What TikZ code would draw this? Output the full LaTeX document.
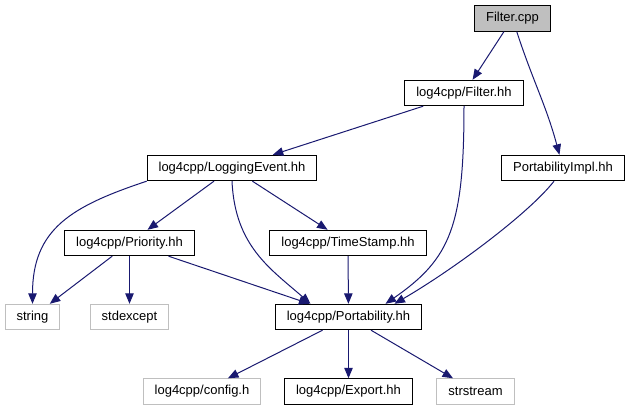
\documentclass[tikz,border=0pt]{standalone}
\usepackage{fontspec}
\setmainfont{Liberation Sans}
\usepackage{tikz}
\usepackage{xcolor}
\usetikzlibrary{arrows.meta}
\definecolor{edgeblue}{HTML}{191970}
\definecolor{sysgray}{HTML}{BFBFBF}
\tikzset{
    header/.style={
        rectangle,
        draw=black,
        line width=0.9pt,
        fill=white,
        align=center,
        minimum height=25.5pt,
        inner xsep=11.5pt,
        inner ysep=0pt,
        font=\fontsize{13}{15}\selectfont
    },
    sysheader/.style={
        header,
        draw=sysgray
    },
    rootfile/.style={
        header,
        fill=sysgray
    },
    arrow/.style={edgeblue, line width=1pt, -{Triangle[length=10.5pt,width=8.5pt]}}
}

\begin{document}
\begin{tikzpicture}[x=1pt, y=1pt]

        \useasboundingbox (0,0) rectangle (630,411);

        \node (filtercpp) [rootfile] at (512.5,392.5) {Filter.cpp};
        \node (filterhh) [header] at (464,318) {log4cpp/Filter.hh};
        \node (logevent) [header] at (232,243) {log4cpp/LoggingEvent.hh};
        \node (portimpl) [header] at (563,243) {PortabilityImpl.hh};
        \node (priority) [header] at (129.5,168) {log4cpp/Priority.hh};
        \node (timestamp) [header] at (348,168) {log4cpp/TimeStamp.hh};
        \node (string) [sysheader] at (32.5,94) {string};
        \node (stdexcept) [sysheader] at (129.5,94) {stdexcept};
        \node (portability) [header] at (348.5,94) {log4cpp/Portability.hh};
        \node (config) [sysheader] at (202,19.5) {log4cpp/config.h};
        \node (export) [header] at (348.5,19.5) {log4cpp/Export.hh};
        \node (strstream) [sysheader] at (475.5,19.5) {strstream};

        \draw [arrow] (filtercpp) -- (filterhh);
        \draw [arrow] (filtercpp) to[out=-72, in=105] (portimpl);
        \draw [arrow] (filterhh) -- (logevent);
        \draw [arrow] (filterhh.south) .. controls +(0,-120) and +(65,45) .. ([xshift=37pt]portability.north);
        \draw [arrow] (logevent.south west) .. controls +(-75,-25) and +(0,75) .. (string.north);
        \draw [arrow] (logevent) -- (priority);
        \draw [arrow] (logevent.south) .. controls +(3,-65) and +(-40,35) .. ([xshift=-38pt]portability.north);
        \draw [arrow] (logevent) -- (timestamp);
        \draw [arrow] ([xshift=-9pt]portimpl.south) .. controls +(-25,-32) and +(60,35) .. ([xshift=46pt]portability.north);
        \draw [arrow] (priority) -- (string);
        \draw [arrow] (priority) -- (stdexcept);
        \draw [arrow] (priority) -- (portability);
        \draw [arrow] (timestamp) -- (portability);
        \draw [arrow] (portability) -- (config);
        \draw [arrow] (portability) -- (export);
        \draw [arrow] (portability) -- (strstream);

    \end{tikzpicture}
\end{document}
